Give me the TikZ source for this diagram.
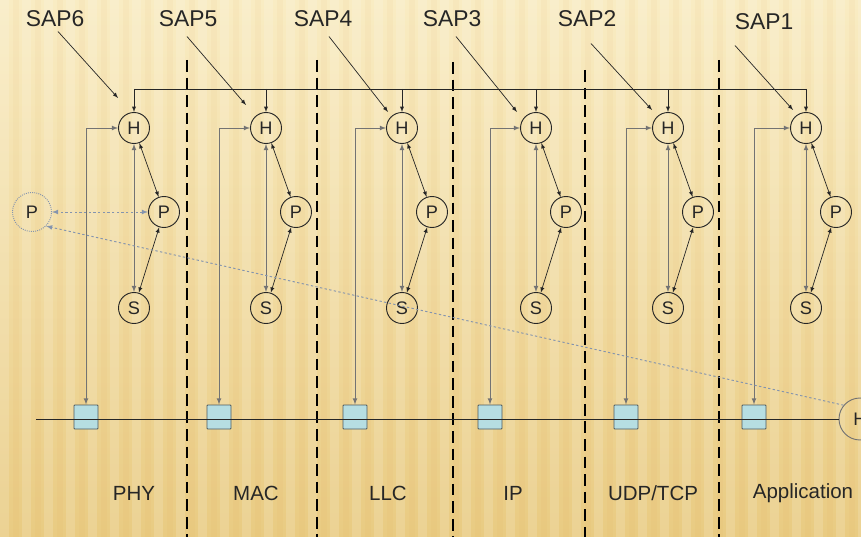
\documentclass[tikz,border=0pt]{standalone}
\usepackage{fontspec}
\setmainfont{Liberation Sans}
\usetikzlibrary{arrows,calc,positioning}
\definecolor{bgtop}{HTML}{F9ECC3}
\definecolor{bgbot}{HTML}{E9CB82}
\definecolor{ink}{HTML}{262626}
\definecolor{steel}{HTML}{8494AE}
\definecolor{boxfill}{HTML}{B6DEE2}
\definecolor{boxedge}{HTML}{4C5A60}
\tikzset{%
	layer/.style  = {draw=ink, thick, circle, minimum size=0.93cm, inner sep=0pt, text=ink, font=\fontsize{15.5}{15.5}\selectfont},
	ghost/.style  = {layer, draw=steel, densely dotted, thick, minimum size=1.17cm},
	port/.style   = {draw=boxedge, fill=boxfill, thick, minimum size=0.72cm, inner sep=0pt, rounded corners=0.6pt},
	saplabel/.style = {text=ink, inner sep=1pt, font=\fontsize{19.5}{20}\selectfont},
	layname/.style  = {text=ink, font=\fontsize{17.5}{18}\selectfont},
	link/.style   = {draw=ink, semithick, >=latex},
	feed/.style   = {draw=black!55, thick, >=latex},
	divider/.style = {draw=black, line width=2.5pt, dash pattern=on 10pt off 5pt},
	probe/.style  = {draw=steel, thick, dash pattern=on 2pt off 2pt, >=latex},
}
\begin{document}
\begin{tikzpicture}[x=0.03cm,y=-0.03cm]
	\useasboundingbox (0,0) rectangle (861,537);
	% paper background
	\shade[top color=bgtop, bottom color=bgbot] (0,0) rectangle (861,537);
	\foreach \x in {0,22,...,860}
		\fill[white, opacity=0.14] (\x,0) rectangle ++(9,537);
	\foreach \x in {13,35,...,860}
		\fill[brown!60!orange, opacity=0.04] (\x,0) rectangle ++(6,537);
	% layer borders
	\foreach \x/\y in {187/60, 317/60, 453/62, 585/70, 719/60}
		\draw[divider] (\x,\y) -- (\x,537);
	% one H/P/S group per layer
	\foreach \i/\x/\bx in {1/134/86, 2/266/219, 3/402/355, 4/536/490, 5/668/626, 6/806/754} {
		\node[layer] (h\i) at (\x,128) {H};
		\node[layer] (p\i) at (\x+30,212) {P};
		\node[layer] (s\i) at (\x,308) {S};
		\node[port]  (b\i) at (\bx,417) {};
	}
	\node[layer, draw=black!55, minimum size=1.26cm] (hR) at (860,419) {H};
	\node[ghost] (pL) at (32,212) {P};
	% common bus on top
	\coordinate (bus) at (0,89);
	\draw[link] (h1 |- bus) -- (h6 |- bus);
	\foreach \i in {1,...,6} {
		\draw[link,->] (h\i |- bus) -- (h\i.north);
		\draw[feed,<->] (h\i) -- (s\i);
		\draw[link,<->] (h\i) -- (p\i);
		\draw[link,<->] (p\i) -- (s\i);
		\draw[feed,<->] (b\i.north) |- (h\i.west);
	}
	% transmission line
	\coordinate (wireL) at (36,419);
	\draw[link] (wireL) -- (hR.west);
	% management probes
	\draw[probe,<->] (p1.west) -- (pL.east);
	\draw[probe,->] (hR.140) -- (pL.south east);
	% service access points
	\foreach \i/\n/\x/\y/\sx/\sy/\ex/\ey in {1/6/55/19/3/3/-16/-30, 2/5/188/19/-1/8/-20/-23, 3/4/323/19/6/8/-14/-16, 4/3/452/19/4/8/-19/-16, 5/2/587/19/4/15/-16/-18, 6/1/764/22/-29/14/-13/-18} {
		\node[saplabel] (sap\i) at (\x,\y) {SAP\n};
		\draw[link,->] (sap\i.south) ++(\sx,\sy) -- ($(h\i)+(\ex,\ey)$);
	}
	% layer names
	\node[layname] (phy) at (134,493) {PHY};
	\node[layname] (mac) at (256,493) {MAC};
	\node[layname] (llc) at (388,493) {LLC};
	\node[layname] (ip)  at (513,493) {IP};
	\node[layname] (udp) at (653,493) {UDP/TCP};
	\node[layname] (app) at (803,493) {Application};
\end{tikzpicture}
\end{document}
